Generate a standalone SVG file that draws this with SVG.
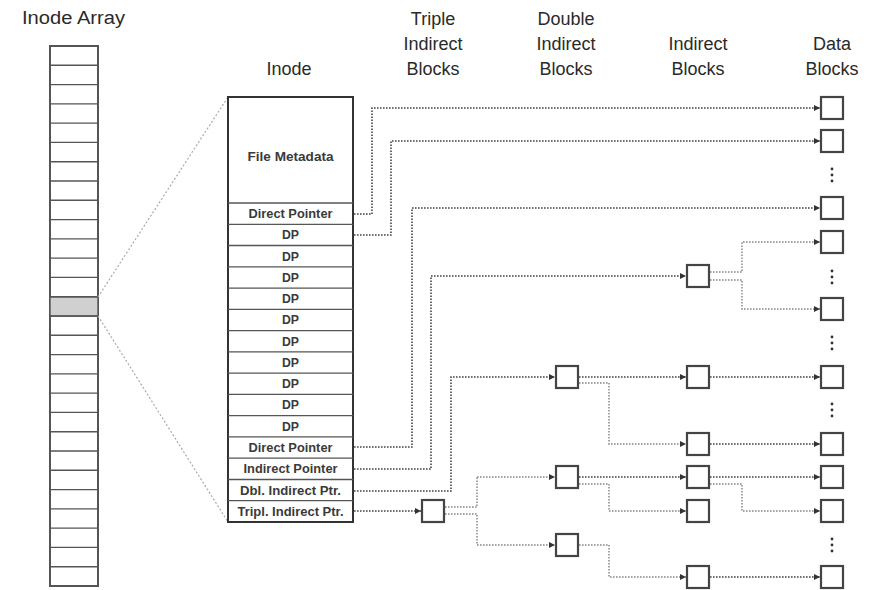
<svg xmlns="http://www.w3.org/2000/svg" width="882" height="590" viewBox="0 0 882 590">
<style>
.hdr{font-family:"Liberation Sans",Arial,sans-serif;font-size:18px;fill:#2a2a2a;text-anchor:middle}
.lbl{font-family:"Liberation Sans",Arial,sans-serif;font-size:13px;font-weight:bold;fill:#3a3a3a;text-anchor:middle}
.cell{fill:#fff;stroke:#555;stroke-width:1.4}
.blk{fill:#fff;stroke:#444;stroke-width:2.2}
.c{fill:none;stroke:#444;stroke-width:1.6;stroke-dasharray:1.6 1.4;marker-end:url(#ah)}
.cl{fill:none;stroke:#888;stroke-width:1.5;stroke-dasharray:1.6 1.4}
.cla{fill:none;stroke:#888;stroke-width:1.5;stroke-dasharray:1.6 1.4;marker-end:url(#ah)}
.zoom{fill:none;stroke:#aaa;stroke-width:1.2;stroke-dasharray:2 2}
.dot{fill:#333}
</style>
<defs>
<marker id="ah" markerUnits="userSpaceOnUse" markerWidth="7" markerHeight="7" refX="6" refY="3.5" orient="auto">
<path d="M0,0.5 L6,3.5 L0,6.5 z" fill="#333"/>
</marker>
</defs>
<rect width="882" height="590" fill="#fff"/>

<g id="headers">
<text x="22" y="24" class="hdr" style="text-anchor:start" textLength="103" lengthAdjust="spacingAndGlyphs">Inode Array</text>
<text x="289" y="75" class="hdr">Inode</text>
<text x="433" y="25" class="hdr">Triple</text>
<text x="433" y="50" class="hdr">Indirect</text>
<text x="433" y="75" class="hdr">Blocks</text>
<text x="566" y="25" class="hdr">Double</text>
<text x="566" y="50" class="hdr">Indirect</text>
<text x="566" y="75" class="hdr">Blocks</text>
<text x="698" y="50" class="hdr">Indirect</text>
<text x="698" y="75" class="hdr">Blocks</text>
<text x="832" y="50" class="hdr">Data</text>
<text x="832" y="75" class="hdr">Blocks</text>
</g>

<g id="inode-array">
<rect x="50" y="46" width="48" height="540" fill="#fff" stroke="#555" stroke-width="2"/>
<rect x="50" y="296.8" width="48" height="19.3" fill="#d0d0d0" stroke="#555" stroke-width="1.4"/>
<path d="M50,65.3H98M50,84.6H98M50,103.9H98M50,123.1H98M50,142.4H98M50,161.7H98M50,181H98M50,200.3H98M50,219.6H98M50,238.9H98M50,258.1H98M50,277.4H98M50,296.7H98M50,316H98M50,335.3H98M50,354.6H98M50,373.9H98M50,393.1H98M50,412.4H98M50,431.7H98M50,451H98M50,470.3H98M50,489.6H98M50,508.9H98M50,528.1H98M50,547.4H98M50,566.7H98" stroke="#555" stroke-width="1.4" fill="none"/>
</g>

<g id="zoom-lines">
<line x1="98" y1="297" x2="228" y2="97" class="zoom"/>
<line x1="98" y1="316" x2="228" y2="522" class="zoom"/>
</g>

<g id="inode">
<rect x="228" y="97" width="125" height="425" fill="#fff" stroke="#333" stroke-width="2"/>
<path d="M228,203H353M228,224.3H353M228,245.5H353M228,266.8H353M228,288.1H353M228,309.3H353M228,330.6H353M228,351.9H353M228,373.1H353M228,394.4H353M228,415.7H353M228,436.9H353M228,458.2H353M228,479.5H353M228,500.7H353" stroke="#555" stroke-width="1.3" fill="none"/>
<text x="290.5" y="161" class="lbl" textLength="86" lengthAdjust="spacingAndGlyphs">File Metadata</text>
<text x="290.5" y="218" class="lbl" textLength="84" lengthAdjust="spacingAndGlyphs">Direct Pointer</text>
<text x="290.5" y="239.3" class="lbl" textLength="17" lengthAdjust="spacingAndGlyphs">DP</text>
<text x="290.5" y="260.6" class="lbl" textLength="17" lengthAdjust="spacingAndGlyphs">DP</text>
<text x="290.5" y="281.8" class="lbl" textLength="17" lengthAdjust="spacingAndGlyphs">DP</text>
<text x="290.5" y="303.1" class="lbl" textLength="17" lengthAdjust="spacingAndGlyphs">DP</text>
<text x="290.5" y="324.4" class="lbl" textLength="17" lengthAdjust="spacingAndGlyphs">DP</text>
<text x="290.5" y="345.6" class="lbl" textLength="17" lengthAdjust="spacingAndGlyphs">DP</text>
<text x="290.5" y="366.9" class="lbl" textLength="17" lengthAdjust="spacingAndGlyphs">DP</text>
<text x="290.5" y="388.2" class="lbl" textLength="17" lengthAdjust="spacingAndGlyphs">DP</text>
<text x="290.5" y="409.4" class="lbl" textLength="17" lengthAdjust="spacingAndGlyphs">DP</text>
<text x="290.5" y="430.7" class="lbl" textLength="17" lengthAdjust="spacingAndGlyphs">DP</text>
<text x="290.5" y="452" class="lbl" textLength="84" lengthAdjust="spacingAndGlyphs">Direct Pointer</text>
<text x="290.5" y="473.2" class="lbl" textLength="94" lengthAdjust="spacingAndGlyphs">Indirect Pointer</text>
<text x="290.5" y="494.5" class="lbl" textLength="101" lengthAdjust="spacingAndGlyphs">Dbl. Indirect Ptr.</text>
<text x="290.5" y="515.8" class="lbl" textLength="106" lengthAdjust="spacingAndGlyphs">Tripl. Indirect Ptr.</text>
</g>

<g id="connectors">
<path class="c" d="M354,214H372V108H820"/>
<path class="c" d="M354,235H391V141H820"/>
<path class="c" d="M354,447H412V208H820"/>
<path class="c" d="M354,469H431V276H686"/>
<path class="c" d="M354,491H451V377H555"/>
<path class="c" d="M354,511H421"/>
<path class="cl" d="M445,507H477V477"/>
<path class="cla" d="M477,477H555"/>
<path class="cl" d="M445,514H477V545"/>
<path class="cla" d="M477,545H555"/>
<path class="c" d="M579,377H686"/>
<path class="cla" d="M579,383H609V444H686"/>
<path class="c" d="M579,477H686"/>
<path class="cla" d="M579,484H609V511H686"/>
<path class="cla" d="M579,545H609V577H686"/>
<path class="cla" d="M710,272H742V242H820"/>
<path class="cla" d="M710,280H742V309H820"/>
<path class="c" d="M710,377H820"/>
<path class="c" d="M710,444H820"/>
<path class="c" d="M710,477H820"/>
<path class="cla" d="M710,484H742V511H820"/>
<path class="c" d="M710,577H820"/>
</g>

<g id="triple-indirect-blocks">
<rect class="blk" x="422" y="500" width="22" height="22"/>
</g>
<g id="double-indirect-blocks">
<rect class="blk" x="556" y="366" width="22" height="22"/>
<rect class="blk" x="556" y="466" width="22" height="22"/>
<rect class="blk" x="556" y="534" width="22" height="22"/>
</g>
<g id="indirect-blocks">
<rect class="blk" x="687" y="265" width="22" height="22"/>
<rect class="blk" x="687" y="366" width="22" height="22"/>
<rect class="blk" x="687" y="433" width="22" height="22"/>
<rect class="blk" x="687" y="466" width="22" height="22"/>
<rect class="blk" x="687" y="500" width="22" height="22"/>
<rect class="blk" x="687" y="566" width="22" height="22"/>
</g>
<g id="data-blocks">
<rect class="blk" x="821" y="97" width="22" height="22"/>
<rect class="blk" x="821" y="130" width="22" height="22"/>
<rect class="blk" x="821" y="197" width="22" height="22"/>
<rect class="blk" x="821" y="231" width="22" height="22"/>
<rect class="blk" x="821" y="298" width="22" height="22"/>
<rect class="blk" x="821" y="366" width="22" height="22"/>
<rect class="blk" x="821" y="433" width="22" height="22"/>
<rect class="blk" x="821" y="466" width="22" height="22"/>
<rect class="blk" x="821" y="500" width="22" height="22"/>
<rect class="blk" x="821" y="566" width="22" height="22"/>
</g>
<g id="ellipses">
<circle class="dot" cx="832" cy="169" r="1.4"/><circle class="dot" cx="832" cy="175" r="1.4"/><circle class="dot" cx="832" cy="181" r="1.4"/>
<circle class="dot" cx="832" cy="271" r="1.4"/><circle class="dot" cx="832" cy="277" r="1.4"/><circle class="dot" cx="832" cy="283" r="1.4"/>
<circle class="dot" cx="832" cy="337" r="1.4"/><circle class="dot" cx="832" cy="343" r="1.4"/><circle class="dot" cx="832" cy="349" r="1.4"/>
<circle class="dot" cx="832" cy="404" r="1.4"/><circle class="dot" cx="832" cy="410" r="1.4"/><circle class="dot" cx="832" cy="416" r="1.4"/>
<circle class="dot" cx="832" cy="539" r="1.4"/><circle class="dot" cx="832" cy="545" r="1.4"/><circle class="dot" cx="832" cy="551" r="1.4"/>
</g>
</svg>
